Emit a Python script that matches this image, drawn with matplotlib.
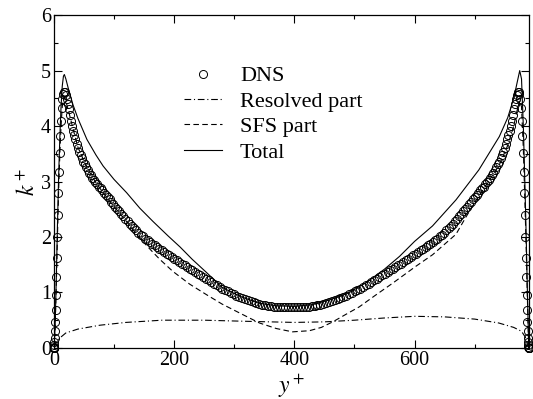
import matplotlib
matplotlib.use("Agg")
import matplotlib.pyplot as plt
import numpy as np

plt.rcParams["font.family"] = ["Liberation Serif", "DejaVu Serif"]
plt.rcParams["mathtext.fontset"] = "stix"

# DNS, lower half of the channel (upper half is the mirror image)
dns_y_half = [0, 0.03, 0.12, 0.27, 0.48, 0.74, 1.07, 1.46, 1.90, 2.41, 2.97, 3.59,
              4.28, 5.02, 5.81, 6.67, 7.59, 8.56, 9.60, 10.69, 11.84, 13.04, 14.31, 15.63,
              17.01, 18.44, 19.94, 21.49, 23.09, 24.75, 26.47, 28.24, 30.07, 31.95, 33.89, 35.88,
              37.92, 40.02, 42.18, 44.38, 46.64, 48.95, 51.32, 53.73, 56.20, 58.71, 61.28, 63.90,
              66.57, 69.29, 72.05, 74.87, 77.73, 80.64, 83.60, 86.61, 89.66, 92.76, 95.90, 99.09,
              102.32, 105.60, 108.92, 112.29, 115.69, 119.14, 122.63, 126.16, 129.73, 133.35, 136.99, 140.69,
              144.42, 148.18, 151.98, 155.82, 159.70, 163.61, 167.56, 171.54, 175.55, 179.60, 183.68, 187.79,
              191.93, 196.10, 200.30, 204.54, 208.80, 213.09, 217.40, 221.75, 226.12, 230.51, 234.93, 239.37,
              243.84, 248.33, 252.84, 257.37, 261.93, 266.50, 271.10, 275.71, 280.34, 284.98, 289.65, 294.33,
              299.02, 303.73, 308.46, 313.19, 317.94, 322.70, 327.47, 332.26, 337.04, 341.84, 346.65, 351.46,
              356.28, 361.11, 365.94, 370.78, 375.62, 380.46, 385.31, 390.15, 395.0]
dns_k_half = [0, 0.0001, 0.0015, 0.007, 0.02, 0.05, 0.10, 0.18, 0.30, 0.46, 0.68, 0.95,
              1.27, 1.63, 2.00, 2.40, 2.80, 3.17, 3.52, 3.83, 4.10, 4.32, 4.48, 4.58,
              4.62, 4.61, 4.56, 4.48, 4.39, 4.30, 4.20, 4.10, 4.00, 3.92, 3.84, 3.76,
              3.68, 3.61, 3.54, 3.48, 3.42, 3.36, 3.31, 3.26, 3.21, 3.16, 3.11, 3.07,
              3.03, 2.99, 2.95, 2.91, 2.88, 2.84, 2.80, 2.76, 2.72, 2.68, 2.64, 2.59,
              2.55, 2.51, 2.46, 2.42, 2.37, 2.33, 2.28, 2.24, 2.20, 2.16, 2.12, 2.08,
              2.04, 2.01, 1.97, 1.94, 1.91, 1.88, 1.85, 1.82, 1.79, 1.76, 1.73, 1.70,
              1.67, 1.64, 1.61, 1.58, 1.55, 1.52, 1.49, 1.46, 1.43, 1.40, 1.37, 1.34,
              1.31, 1.28, 1.25, 1.22, 1.19, 1.16, 1.13, 1.10, 1.07, 1.04, 1.02, 0.99,
              0.97, 0.94, 0.92, 0.90, 0.88, 0.86, 0.84, 0.82, 0.81, 0.79, 0.78, 0.77,
              0.76, 0.75, 0.745, 0.74, 0.735, 0.73, 0.73, 0.73, 0.73]
channel_width = 790.0

# LES: resolved part
res_y = [0, 2, 5, 10, 20, 40, 77, 120, 180, 250, 320, 400, 450, 500, 550, 600,
         650, 700, 740, 765, 778, 784, 788, 790]
res_k = [0, 0.05, 0.12, 0.18, 0.27, 0.34, 0.41, 0.46, 0.50, 0.50, 0.48, 0.46, 0.47, 0.50, 0.54, 0.57,
         0.56, 0.52, 0.45, 0.37, 0.30, 0.20, 0.08, 0]

# LES: SFS part
sfs_y = [0, 2, 4, 6, 8, 10, 12, 14, 16, 17.5, 20, 25, 32, 40, 55, 70, 82, 100, 127, 143,
         160, 176, 198, 226, 254, 280, 309, 342, 370, 397, 425, 445, 464, 485, 508, 535, 564,
         602, 630, 669, 685, 700, 720, 741, 755, 765, 772, 775, 778, 781, 784, 786, 788, 790]
sfs_k = [0, 0.3, 1.1, 2.0, 2.85, 3.5, 4.0, 4.35, 4.5, 4.52, 4.45, 4.25, 3.95, 3.62, 3.25, 2.98, 2.8, 2.55, 2.2, 1.98,
         1.78, 1.6, 1.38, 1.15, 0.96, 0.79, 0.63, 0.45, 0.35, 0.29, 0.31, 0.37, 0.47, 0.6, 0.74, 0.95, 1.17,
         1.47, 1.68, 2.05, 2.35, 2.62, 2.95, 3.3, 3.65, 4.0, 4.35, 4.45, 4.35, 3.6, 2.5, 1.7, 0.8, 0]

# LES: total
tot_y = [0, 2, 4, 6, 8, 10, 12, 14, 16, 17.5, 20, 25, 32, 40, 55, 70, 82, 100, 121, 143,
         165, 190, 210, 230, 254, 280, 310, 340, 370, 400, 430, 460, 490, 520, 550, 575,
         600, 630, 669, 707, 741, 755, 765, 772, 775, 778, 781, 784, 786, 788, 790]
tot_k = [0, 0.35, 1.2, 2.2, 3.1, 3.8, 4.35, 4.72, 4.9, 4.93, 4.85, 4.64, 4.38, 4.14, 3.76, 3.48, 3.28, 3.04, 2.80, 2.52,
         2.28, 2.02, 1.82, 1.60, 1.36, 1.09, 0.93, 0.81, 0.76, 0.75, 0.78, 0.87, 0.99, 1.18, 1.42, 1.65,
         1.92, 2.20, 2.67, 3.21, 3.81, 4.15, 4.50, 4.85, 5.00, 4.85, 4.00, 2.80, 1.90, 0.90, 0]

dns_y_half = np.array(dns_y_half)
dns_k_half = np.array(dns_k_half)
dns_y = np.concatenate([dns_y_half, channel_width - dns_y_half[::-1][1:]])
dns_k = np.concatenate([dns_k_half, dns_k_half[::-1][1:]])

fig = plt.figure(figsize=(5.33, 3.99), dpi=100)
ax = fig.add_axes([0.101, 0.128, 0.891, 0.834])

ax.plot(dns_y, dns_k, linestyle="none", marker="o", markersize=5.8, markerfacecolor="none",
        markeredgecolor="black", markeredgewidth=0.7, clip_on=False, label="DNS", zorder=3)
ax.plot(res_y, res_k, color="black", lw=0.8, dashes=(6, 2.5, 1, 2.5), label="Resolved part")
ax.plot(sfs_y, sfs_k, color="black", lw=0.8, dashes=(5, 3), label="SFS part")
ax.plot(tot_y, tot_k, color="black", lw=0.8, label="Total")

ax.set_xlim(0, channel_width)
ax.set_ylim(0, 6)
ax.set_xticks([0, 200, 400, 600])
ax.set_xticks(np.arange(100, 800, 200), minor=True)
ax.set_yticks(np.arange(0, 7, 1))
ax.set_yticks(np.arange(0.5, 6, 1), minor=True)
ax.tick_params(which="both", direction="in", top=True, right=True, labelsize=14.5, width=0.8)
ax.tick_params(which="major", length=6, pad=2)
ax.tick_params(which="minor", length=3)
for s in ax.spines.values():
    s.set_linewidth(0.9)

ax.set_xlabel("$y^+$", fontsize=17, labelpad=2)
ax.set_ylabel("$k^+$", fontsize=17, labelpad=1)

ax.legend(loc="upper left", bbox_to_anchor=(0.275, 0.848), frameon=False, fontsize=16,
          numpoints=1, handlelength=1.7, handletextpad=0.8, labelspacing=0.22,
          borderpad=0, borderaxespad=0)

fig.savefig("out.png", dpi=100)
